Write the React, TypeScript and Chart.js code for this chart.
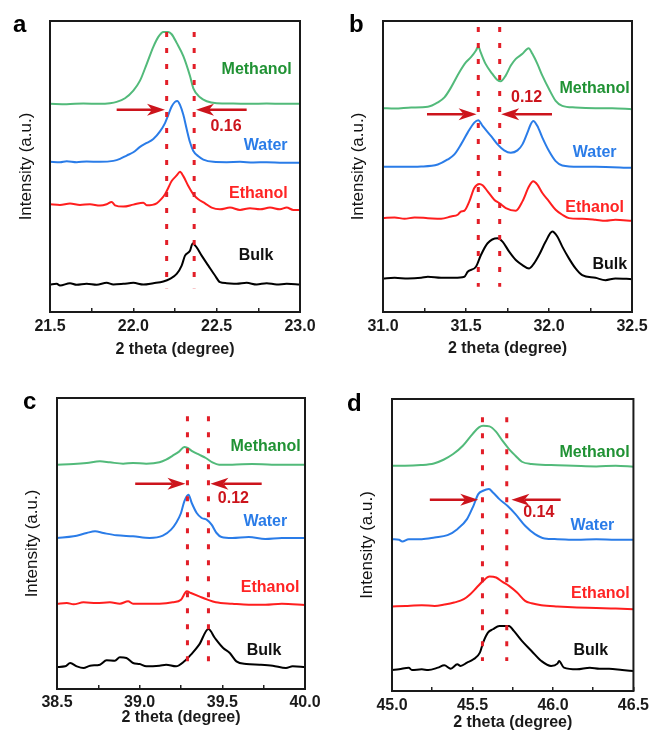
import React, { useEffect, useRef } from 'react';
import { Chart, registerables } from 'chart.js';
Chart.register(...registerables);

type P = [number, number];

const seriesNames = ['Methanol', 'Water', 'Ethanol', 'Bulk'];
const lineColors = ['rgb(82,186,122)', 'rgb(42,124,232)', 'rgb(255,30,30)', '#000000'];
const labelColors = ['rgb(32,146,52)', 'rgb(42,124,232)', 'rgb(255,36,36)', '#111111'];
const FONT = "'Liberation Sans', Arial, Helvetica, sans-serif";

// ---------- Panel a ----------
const aRange = [21.5, 23.0];
const aYMax = 878;
const aMethanol: P[] = [[21.5,628],[21.6,627],[21.7,629],[21.8,628],[21.86,630],[21.9,634],[21.95,645],[22.0,668],[22.04,698],[22.08,748],[22.12,800],[22.15,830],[22.18,845],[22.21,845],[22.23,838],[22.26,812],[22.3,772],[22.34,712],[22.36,675],[22.4,648],[22.44,636],[22.5,630],[22.6,629],[22.7,628],[22.8,629],[22.9,628],[23.0,628]];
const aWater: P[] = [[21.5,453],[21.56,452],[21.6,455],[21.66,452],[21.72,454],[21.8,453],[21.88,456],[21.92,462],[21.96,472],[22.0,482],[22.04,498],[22.08,510],[22.12,522],[22.16,545],[22.19,570],[22.21,595],[22.23,620],[22.25,634],[22.264,637],[22.28,625],[22.3,595],[22.32,552],[22.34,512],[22.36,486],[22.39,470],[22.42,460],[22.48,453],[22.56,452],[22.64,453],[22.72,451],[22.8,452],[22.9,450],[23.0,450]];
const aEthanol: P[] = [[21.5,325],[21.56,323],[21.62,327],[21.68,323],[21.74,325],[21.8,321],[21.84,325],[21.87,332],[21.89,322],[21.94,318],[22.0,324],[22.06,330],[22.08,322],[22.14,328],[22.17,342],[22.19,355],[22.21,375],[22.23,395],[22.26,412],[22.28,423],[22.3,410],[22.33,380],[22.36,355],[22.39,340],[22.43,328],[22.47,315],[22.52,310],[22.58,315],[22.64,308],[22.7,313],[22.76,310],[22.82,315],[22.88,310],[22.92,315],[22.96,308],[23.0,308]];
const aBulk: P[] = [[21.5,83],[21.54,85],[21.56,80],[21.62,87],[21.66,82],[21.72,85],[21.78,82],[21.84,88],[21.88,83],[21.94,85],[22.0,88],[22.06,83],[22.12,87],[22.18,92],[22.22,100],[22.26,115],[22.29,140],[22.31,170],[22.34,185],[22.356,207],[22.38,195],[22.41,170],[22.45,140],[22.49,110],[22.52,90],[22.56,87],[22.62,85],[22.68,88],[22.74,83],[22.8,87],[22.86,83],[22.92,85],[23.0,83]];
const aShiftLines = [22.2, 22.365];
const aLineSpan = [845, 72];
const aArrowY = 610;
const aArrows: P[] = [[21.9, 22.19], [22.68, 22.376]];
const aShift = { text: '0.16', x: 22.556, y: 559 };
const aLabelPos: P[] = [[22.74, 730], [22.794, 503], [22.75, 357], [22.736, 170]];

// ---------- Panel b ----------
const bRange = [31.0, 32.5];
const bYMax = 868;
const bMethanol: P[] = [[31.0,608],[31.07,607],[31.17,610],[31.27,612],[31.33,625],[31.37,640],[31.41,670],[31.46,715],[31.5,745],[31.53,760],[31.56,780],[31.574,792],[31.588,775],[31.618,740],[31.659,710],[31.689,692],[31.709,688],[31.739,705],[31.77,735],[31.8,755],[31.84,770],[31.877,787],[31.9,770],[31.93,740],[31.96,705],[32.0,665],[32.04,630],[32.08,615],[32.16,610],[32.28,608],[32.38,608],[32.5,605]];
const bWater: P[] = [[31.0,433],[31.11,433],[31.23,434],[31.33,440],[31.39,455],[31.43,470],[31.47,500],[31.51,535],[31.55,565],[31.574,572],[31.6,555],[31.65,525],[31.69,500],[31.73,482],[31.77,475],[31.81,482],[31.84,500],[31.87,535],[31.89,560],[31.905,570],[31.93,555],[31.96,520],[32.0,480],[32.04,450],[32.08,437],[32.18,433],[32.28,433],[32.5,430]];
const bEthanol: P[] = [[31.0,280],[31.07,282],[31.13,278],[31.19,282],[31.27,280],[31.35,278],[31.41,285],[31.45,290],[31.47,300],[31.49,302],[31.52,330],[31.55,370],[31.58,382],[31.6,378],[31.63,360],[31.67,335],[31.7,325],[31.74,310],[31.8,302],[31.84,330],[31.88,375],[31.905,390],[31.93,380],[31.96,355],[32.0,330],[32.04,305],[32.08,290],[32.12,280],[32.2,278],[32.28,275],[32.34,272],[32.4,275],[32.5,272]];
const bBulk: P[] = [[31.0,100],[31.07,102],[31.15,100],[31.23,102],[31.27,105],[31.35,102],[31.43,102],[31.49,105],[31.51,120],[31.56,135],[31.59,170],[31.63,205],[31.689,220],[31.72,210],[31.76,180],[31.8,155],[31.84,140],[31.88,130],[31.91,145],[31.94,170],[31.98,210],[32.02,240],[32.05,225],[32.08,195],[32.12,160],[32.16,130],[32.2,110],[32.28,102],[32.34,95],[32.4,100],[32.5,98]];
const bShiftLines = [31.574, 31.703];
const bLineSpan = [850, 75];
const bArrowY = 590;
const bArrows: P[] = [[31.265, 31.564], [32.018, 31.712]];
const bShift = { text: '0.12', x: 31.865, y: 640 };
const bLabelPos: P[] = [[32.275, 665], [32.275, 475], [32.275, 310], [32.366, 140]];

// ---------- Panel c ----------
const cRange = [38.5, 40.0];
const cYMax = 873;
const cMethanol: P[] = [[38.5,673],[38.6,675],[38.68,678],[38.76,683],[38.82,680],[38.9,676],[38.96,678],[39.04,676],[39.12,680],[39.16,688],[39.2,700],[39.24,713],[39.27,726],[39.29,723],[39.32,713],[39.36,703],[39.4,693],[39.44,680],[39.48,673],[39.56,673],[39.68,675],[39.8,673],[40.0,673]];
const cWater: P[] = [[38.5,453],[38.6,458],[38.68,468],[38.73,473],[38.78,468],[38.86,461],[38.96,458],[39.06,453],[39.14,460],[39.19,478],[39.22,498],[39.25,528],[39.27,563],[39.295,583],[39.315,558],[39.345,528],[39.375,513],[39.405,508],[39.435,493],[39.465,468],[39.495,456],[39.56,453],[39.66,456],[39.76,450],[39.86,453],[40.0,453]];
const cEthanol: P[] = [[38.5,256],[38.56,258],[38.6,254],[38.66,260],[38.74,258],[38.82,260],[38.88,256],[38.93,263],[38.96,256],[39.04,256],[39.12,256],[39.2,260],[39.25,268],[39.285,293],[39.31,288],[39.36,278],[39.41,268],[39.46,260],[39.56,256],[39.66,253],[39.76,253],[39.86,256],[40.0,252]];
const cBulk: P[] = [[38.5,66],[38.55,68],[38.58,78],[38.62,68],[38.66,63],[38.7,70],[38.76,73],[38.8,86],[38.85,85],[38.88,95],[38.92,93],[38.96,78],[39.0,75],[39.04,68],[39.12,70],[39.16,73],[39.22,68],[39.27,83],[39.31,103],[39.36,133],[39.416,180],[39.455,153],[39.505,123],[39.545,108],[39.585,83],[39.645,75],[39.725,73],[39.805,70],[39.885,63],[39.925,68],[40.0,66]];
const cShiftLines = [39.289, 39.416];
const cLineSpan = [818, 78];
const cArrowY = 616;
const cArrows: P[] = [[38.973, 39.277], [39.738, 39.428]];
const cShift = { text: '0.12', x: 39.567, y: 570 };
const cLabelPos: P[] = [[39.762, 726], [39.76, 501], [39.789, 303], [39.752, 115]];

// ---------- Panel d ----------
const dRange = [45.0, 46.5];
const dYMax = 875;
const dMethanol: P[] = [[45.0,675],[45.08,675],[45.18,677],[45.26,682],[45.32,693],[45.38,710],[45.44,735],[45.5,770],[45.54,790],[45.566,795],[45.606,793],[45.646,777],[45.686,750],[45.727,725],[45.767,705],[45.807,687],[45.867,680],[45.988,677],[46.128,675],[46.269,673],[46.39,675],[46.5,672]];
const dWater: P[] = [[45.0,455],[45.044,453],[45.064,448],[45.104,455],[45.185,455],[45.265,460],[45.345,467],[45.406,485],[45.466,515],[45.506,555],[45.536,590],[45.566,600],[45.602,605],[45.627,595],[45.667,575],[45.717,555],[45.767,530],[45.827,495],[45.888,470],[45.948,457],[46.028,455],[46.149,453],[46.269,455],[46.39,453],[46.5,453]];
const dEthanol: P[] = [[45.0,253],[45.084,255],[45.185,257],[45.265,255],[45.325,259],[45.386,265],[45.446,275],[45.486,290],[45.526,310],[45.566,330],[45.606,343],[45.647,340],[45.687,327],[45.727,315],[45.777,295],[45.827,270],[45.867,263],[45.928,257],[46.028,253],[46.149,250],[46.269,249],[46.39,247],[46.5,245]];
const dBulk: P[] = [[45.0,63],[45.044,65],[45.104,70],[45.124,63],[45.185,65],[45.225,63],[45.285,70],[45.325,77],[45.365,67],[45.406,80],[45.426,75],[45.466,85],[45.506,95],[45.546,115],[45.566,145],[45.596,175],[45.627,185],[45.667,195],[45.727,195],[45.757,180],[45.807,150],[45.867,120],[45.928,90],[45.988,75],[46.028,82],[46.038,90],[46.068,70],[46.149,65],[46.229,70],[46.289,67],[46.349,67],[46.43,63],[46.5,60]];
const dShiftLines = [45.562, 45.713];
const dLineSpan = [820, 90];
const dArrowY = 573;
const dArrows: P[] = [[45.235, 45.536], [46.048, 45.742]];
const dShift = { text: '0.14', x: 45.912, y: 535 };
const dLabelPos: P[] = [[46.259, 713], [46.245, 497], [46.295, 292], [46.235, 120]];

// ---------- layout (not data) ----------
const panels = [
  { letter: 'a', range: aRange, yMax: aYMax, series: [aMethanol, aWater, aEthanol, aBulk], labelPos: aLabelPos, lines: aShiftLines, span: aLineSpan, arrowY: aArrowY, arrows: aArrows, shift: aShift,
    left: 0, top: 0, h: 366, area: { l: 50, t: 21, r: 300, b: 312 }, yTitleX: 26, xTitlePad: 7, tickPad: 9, letterPos: [13, 32] },
  { letter: 'b', range: bRange, yMax: bYMax, series: [bMethanol, bWater, bEthanol, bBulk], labelPos: bLabelPos, lines: bShiftLines, span: bLineSpan, arrowY: bArrowY, arrows: bArrows, shift: bShift,
    left: 329, top: 0, h: 366, area: { l: 54, t: 21, r: 303, b: 312 }, yTitleX: 29, xTitlePad: 8, tickPad: 9, letterPos: [20, 32] },
  { letter: 'c', range: cRange, yMax: cYMax, series: [cMethanol, cWater, cEthanol, cBulk], labelPos: cLabelPos, lines: cShiftLines, span: cLineSpan, arrowY: cArrowY, arrows: cArrows, shift: cShift,
    left: 0, top: 366, h: 367, area: { l: 57, t: 32, r: 305, b: 323 }, yTitleX: 32, xTitlePad: 6, tickPad: 8, letterPos: [23, 43] },
  { letter: 'd', range: dRange, yMax: dYMax, series: [dMethanol, dWater, dEthanol, dBulk], labelPos: dLabelPos, lines: dShiftLines, span: dLineSpan, arrowY: dArrowY, arrows: dArrows, shift: dShift,
    left: 329, top: 366, h: 367, area: { l: 63, t: 33, r: 312, b: 325 }, yTitleX: 38, xTitlePad: 1, tickPad: 9, letterPos: [18, 45] },
];

const CW = 329;

function drawArrow(ctx: CanvasRenderingContext2D, x1: number, y: number, x2: number) {
  const dir = Math.sign(x2 - x1);
  const headLen = 18, half = 6, notch = 5;
  ctx.save();
  ctx.strokeStyle = 'rgb(204,20,28)';
  ctx.fillStyle = 'rgb(204,20,28)';
  ctx.lineWidth = 2.5;
  ctx.beginPath();
  ctx.moveTo(x1, y);
  ctx.lineTo(x2 - dir * (headLen - notch), y);
  ctx.stroke();
  ctx.beginPath();
  ctx.moveTo(x2, y);
  ctx.lineTo(x2 - dir * headLen, y - half);
  ctx.lineTo(x2 - dir * (headLen - notch), y);
  ctx.lineTo(x2 - dir * headLen, y + half);
  ctx.closePath();
  ctx.fill();
  ctx.restore();
}

function Panel({ cfg }: { cfg: any }) {
  const ref = useRef<HTMLCanvasElement>(null);
  useEffect(() => {
    const canvas = ref.current!;
    const annot = {
      id: 'annot',
      afterDatasetsDraw(chart: any) {
        const ctx: CanvasRenderingContext2D = chart.ctx;
        const xs = chart.scales.x, ys = chart.scales.y;
        const ca = chart.chartArea;
        ctx.save();
        ctx.strokeStyle = 'rgb(226,30,40)';
        ctx.lineWidth = 3;
        ctx.setLineDash([5, 11]);
        cfg.lines.forEach((lx: number) => {
          const px = xs.getPixelForValue(lx);
          ctx.beginPath();
          ctx.moveTo(px, ys.getPixelForValue(cfg.span[0]));
          ctx.lineTo(px, ys.getPixelForValue(cfg.span[1]));
          ctx.stroke();
        });
        ctx.setLineDash([]);
        const ay = ys.getPixelForValue(cfg.arrowY);
        cfg.arrows.forEach((a: P) => drawArrow(ctx, xs.getPixelForValue(a[0]), ay, xs.getPixelForValue(a[1])));
        ctx.font = `bold 16px ${FONT}`;
        ctx.textAlign = 'center';
        ctx.textBaseline = 'middle';
        ctx.fillStyle = 'rgb(204,20,28)';
        ctx.fillText(cfg.shift.text, xs.getPixelForValue(cfg.shift.x), ys.getPixelForValue(cfg.shift.y));
        cfg.labelPos.forEach((p: P, i: number) => {
          ctx.fillStyle = labelColors[i];
          ctx.fillText(seriesNames[i], xs.getPixelForValue(p[0]), ys.getPixelForValue(p[1]));
        });
        ctx.strokeStyle = '#1a1a1a';
        ctx.lineWidth = 2;
        ctx.strokeRect(ca.left, ca.top, ca.right - ca.left, ca.bottom - ca.top);
        ctx.fillStyle = '#000';
        ctx.font = `bold 24px ${FONT}`;
        ctx.textAlign = 'left';
        ctx.textBaseline = 'alphabetic';
        ctx.fillText(cfg.letter, cfg.letterPos[0], cfg.letterPos[1]);
        ctx.restore();
      },
    };
    const chart = new Chart(canvas, {
      type: 'line',
      data: {
        datasets: cfg.series.map((s: P[], i: number) => ({
          label: seriesNames[i],
          data: s.map(([x, y]) => ({ x, y })),
          borderColor: lineColors[i],
          borderWidth: 2,
          pointRadius: 0,
          fill: false,
          cubicInterpolationMode: 'monotone',
        })),
      },
      options: {
        responsive: false,
        animation: false,
        devicePixelRatio: 1,
        layout: { padding: { left: 0, top: cfg.area.t, right: CW - cfg.area.r, bottom: 0 } },
        plugins: { legend: { display: false }, tooltip: { enabled: false } },
        scales: {
          x: {
            type: 'linear',
            min: cfg.range[0],
            max: cfg.range[1],
            afterFit: (s: any) => { s.height = cfg.h - cfg.area.b; },
            ticks: {
              stepSize: 0.25,
              autoSkip: false,
              maxRotation: 0,
              padding: cfg.tickPad,
              color: '#1a1a1a',
              font: { family: FONT, size: 16, weight: 'bold' },
              callback: (v: any) => {
                const n = Number(v);
                return Math.abs(n * 2 - Math.round(n * 2)) < 1e-6 ? n.toFixed(1) : '';
              },
            },
            grid: { drawOnChartArea: false, drawTicks: true, tickLength: -4, color: '#222', lineWidth: 1.5 },
            border: { display: false },
            title: { display: true, text: '2 theta (degree)', color: '#1a1a1a', font: { family: FONT, size: 16, weight: 'bold' }, padding: { top: 0, bottom: cfg.xTitlePad } },
          },
          y: {
            min: 0,
            max: cfg.yMax,
            afterFit: (s: any) => { s.width = cfg.area.l; },
            ticks: { display: false },
            grid: { display: false },
            border: { display: false },
            title: { display: true, text: 'Intensity (a.u.)', color: '#111', font: { family: FONT, size: 17 }, padding: { top: cfg.yTitleX - 10.2, bottom: 0 } },
          },
        },
      } as any,
      plugins: [annot],
    });
    return () => chart.destroy();
  }, []);
  return (
    <canvas
      ref={ref}
      width={CW}
      height={cfg.h}
      style={{ position: 'absolute', left: cfg.left, top: cfg.top, width: CW, height: cfg.h }}
    />
  );
}

export default function App() {
  return (
    <div style={{ position: 'absolute', left: 0, top: 0, width: 658, height: 733, background: '#fff' }}>
      {panels.map((p) => (
        <Panel key={p.letter} cfg={p} />
      ))}
    </div>
  );
}
